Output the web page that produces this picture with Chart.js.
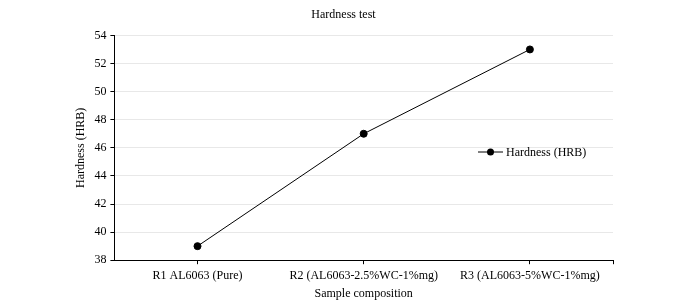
<!DOCTYPE html>
<html>
<head>
<meta charset="utf-8">
<script src="https://cdn.jsdelivr.net/npm/chart.js@4"></script>
<style>
  html, body { margin: 0; padding: 0; background: #fff; }
  #wrap { width: 684px; height: 305px; }
</style>
</head>
<body>
<div id="wrap"><canvas id="hardnessChart" width="684" height="305"></canvas></div>
<script>
const samples = ["R1 AL6063 (Pure)", "R2 (AL6063-2.5%WC-1%mg)", "R3 (AL6063-5%WC-1%mg)"];
const hardness = [39, 47, 53];
const seriesName = "Hardness (HRB)";

const fontFamily = "'Liberation Serif', 'Times New Roman', serif";

//legend drawn inside the plot, on the right like the original
const insideLegend = {
  id: "insideLegend",
  afterDraw(chart) {
    const ctx = chart.ctx;
    const ds = chart.data.datasets[0];
    const x = 478, y = 152;
    ctx.save();
    ctx.strokeStyle = "#000";
    ctx.lineWidth = 1;
    ctx.beginPath();
    ctx.moveTo(x, y);
    ctx.lineTo(x + 25, y);
    ctx.stroke();
    ctx.fillStyle = "#000";
    ctx.beginPath();
    ctx.arc(x + 12.5, y, 3.5, 0, Math.PI * 2);
    ctx.fill();
    ctx.font = "12px " + fontFamily;
    ctx.textBaseline = "middle";
    ctx.fillText(ds.label, x + 28, y + 0.5);

    //closing tick at the right end of the x axis
    const a = chart.chartArea;
    ctx.beginPath();
    ctx.moveTo(Math.round(a.right) + 0.5, a.bottom);
    ctx.lineTo(Math.round(a.right) + 0.5, a.bottom + 4);
    ctx.stroke();
    ctx.restore();
  }
};

const ctx = document.getElementById("hardnessChart").getContext("2d");
new Chart(ctx, {
  type: "line",
  data: {
    labels: samples,
    datasets: [{
      label: seriesName,
      data: hardness,
      borderColor: "#000",
      backgroundColor: "#000",
      borderWidth: 1,
      pointRadius: 3.5,
      pointHoverRadius: 3.5,
      tension: 0,
      fill: false
    }]
  },
  options: {
    responsive: false,
    animation: false,
    layout: { padding: { left: 74, right: 71, top: 6, bottom: 4 } },
    plugins: {
      legend: { display: false },
      tooltip: { enabled: false },
      title: {
        display: true,
        text: "Hardness test",
        color: "#000",
        font: { family: fontFamily, size: 12, weight: "normal" },
        padding: { top: 2, bottom: 13 }
      }
    },
    scales: {
      x: {
        offset: true,
        border: { color: "#000", width: 1 },
        grid: { drawOnChartArea: false, offset: false, tickColor: "#000", tickLength: 4 },
        ticks: { color: "#000", font: { family: fontFamily, size: 12 }, maxRotation: 0, padding: 4 },
        title: {
          display: true,
          text: "Sample composition",
          color: "#000",
          font: { family: fontFamily, size: 12 },
          padding: { top: 0, bottom: 0 }
        }
      },
      y: {
        min: 38,
        max: 54,
        border: { color: "#000", width: 1 },
        grid: { color: "#e8e8e8", tickColor: "#000", tickLength: 4 },
        ticks: { stepSize: 2, color: "#000", font: { family: fontFamily, size: 12 }, padding: 4 },
        title: {
          display: true,
          text: "Hardness (HRB)",
          color: "#000",
          font: { family: fontFamily, size: 12 },
          padding: { top: 0, bottom: 2 }
        }
      }
    }
  },
  plugins: [insideLegend]
});
</script>
</body>
</html>
